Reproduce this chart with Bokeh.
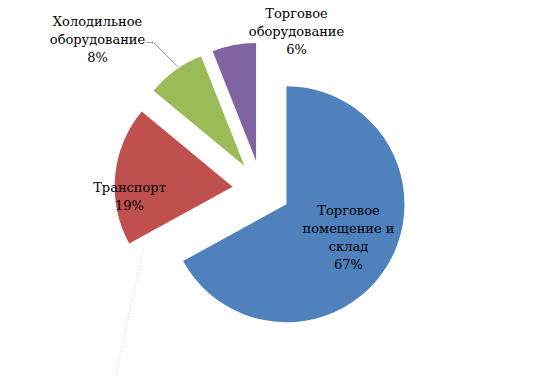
import math
from bokeh.plotting import figure
from bokeh.models import ColumnDataSource, Range1d
from bokeh.core.properties import value
from bokeh.embed import file_html
from bokeh.resources import INLINE

# data
categories = ["Торговое помещение и склад", "Транспорт", "Холодильное оборудование", "Торговое оборудование"]
shares = [67, 19, 8, 6]
colors = ["#4F81BD", "#C0504D", "#9BBB59", "#8064A2"]
label_lines = [["Торговое", "помещение и", "склад", "67%"],
               ["Транспорт", "19%"],
               ["Холодильное", "оборудование", "8%"],
               ["Торговое", "оборудование", "6%"]]

# layout (pixel units, y measured from top)
W, H = 546, 378
cx, cy = 261, 189
R = 118
explode = 29
label_pos = [(348, 237), (129, 196), (97, 39), (296, 31)]
line_step = 18

total = float(sum(shares))
xs, ys, starts, ends = [], [], [], []
cum = 0.0
for s in shares:
    a = cum / total
    b = (cum + s) / total
    cum += s
    mid = math.pi / 2 - 2 * math.pi * (a + b) / 2
    xs.append(cx + explode * math.cos(mid))
    ys.append((H - cy) + explode * math.sin(mid))
    starts.append(math.pi / 2 - 2 * math.pi * b)
    ends.append(math.pi / 2 - 2 * math.pi * a)

src = ColumnDataSource(dict(x=xs, y=ys, start=starts, end=ends, color=colors))

p = figure(width=W, height=H, output_backend="svg", toolbar_location=None,
           x_range=Range1d(0, W), y_range=Range1d(0, H), min_border=0)
p.axis.visible = False
p.grid.visible = False
p.outline_line_color = None
p.background_fill_color = "white"
p.border_fill_color = "white"

p.wedge(x="x", y="y", radius=R, start_angle="start", end_angle="end",
        direction="anticlock", fill_color="color", line_color=None, source=src)

# leader lines
p.line([146, 153, 177], [H - 42, H - 42, H - 66], line_color="#808080", line_width=0.8)
p.line([143, 115], [H - 248, H - 375], line_color="#d0d0d0", line_width=1, line_dash="1 2")

tx, ty, tt = [], [], []
for (lx, ly), lines in zip(label_pos, label_lines):
    n = len(lines)
    for i, t in enumerate(lines):
        tx.append(lx)
        ty.append(H - (ly + (i - (n - 1) / 2) * line_step))
        tt.append(t)
lsrc = ColumnDataSource(dict(x=tx, y=ty, t=tt))
p.text(x="x", y="y", text="t", source=lsrc, text_align="center", text_baseline="middle",
       text_font=value("DejaVu Serif"), text_font_size="13px", text_color="black")

open("out.html", "w").write(file_html(p, INLINE))
